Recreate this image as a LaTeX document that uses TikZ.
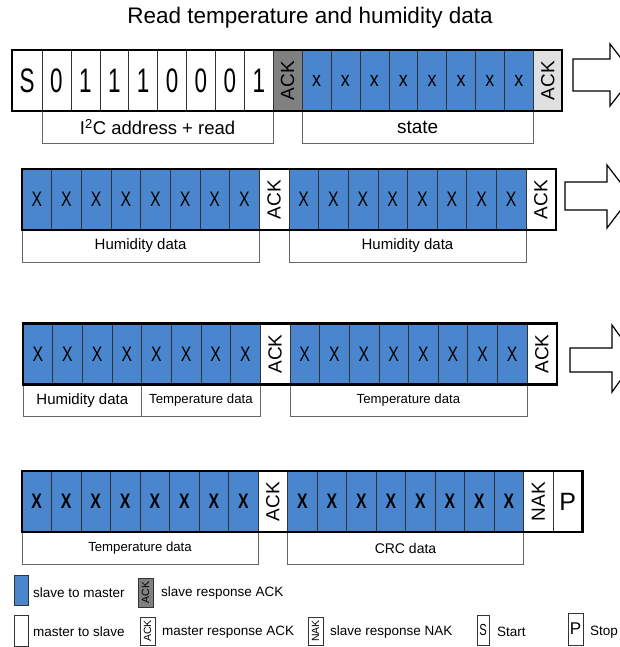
\documentclass[tikz,border=0pt]{standalone}
\usepackage{fontspec}
\setmainfont{Liberation Sans}
\usetikzlibrary{positioning}
\definecolor{slaveblue}{RGB}{74,134,206}
\definecolor{ackgray}{RGB}{128,128,128}
\definecolor{acklight}{RGB}{224,224,224}
\newcommand\tallbit[1]{\scalebox{0.66}[1]{\fontsize{34}{34}\selectfont #1}}
\newcommand\lowbit[1]{\scalebox{0.85}[1]{\fontsize{21}{21}\selectfont #1}}
\newcommand\capbit[1]{\scalebox{0.75}[1]{\fontsize{21}{21}\selectfont #1}}
\newcommand\vtext[1]{\rotatebox{90}{\fontsize{19}{19}\selectfont #1}}
\newcommand\smallv[1]{\rotatebox{90}{\fontsize{10.5}{10.5}\selectfont #1}}
\tikzset{
  bit/.style={draw=black!80, line width=0.6pt, minimum width=#1, minimum height=61pt,
    inner sep=0pt, outer sep=0pt, anchor=north west},
  bit/.default=29.65pt,
  slv/.style={bit=#1, fill=slaveblue},
  slv/.default=29.65pt,
  mst/.style={bit=#1, fill=white},
  mst/.default=29.65pt,
  lab/.style={draw=black!60, line width=0.6pt, minimum height=32pt, inner sep=0pt,
    outer sep=0pt, anchor=north west},
  frame/.style={draw=black, line width=2.2pt},
  blockarrow/.style={draw=black, line width=1.2pt, fill=white, line join=miter},
  key/.style={draw=black!80, line width=0.8pt, minimum width=14pt, minimum height=29pt,
    inner sep=0pt, outer sep=0pt, anchor=north west},
  keytext/.style={anchor=west, inner sep=0pt, font=\fontsize{13.5}{13.5}\selectfont}
}

\begin{document}
\begin{tikzpicture}[x=1pt,y=-1pt]
  \useasboundingbox (0,0) rectangle (620,647);
  \node[font=\fontsize{22.5}{22.5}\selectfont] (title) at (310,18) {Read temperature and humidity data};

  % first frame: address + state
  \node[mst=30pt] (a0) at (12,50) {\tallbit{S}};
  \foreach \b [count=\i] in {0,1,1,1,0,0,0,1}
    \node[mst=28.9pt] (a\i) at ({42+(\i-1)*28.9},50) {\tallbit{\b}};
  \node[bit=28.9pt, fill=ackgray] (a9) at ({42+8*28.9},50) {\vtext{ACK}};
  \foreach \i in {10,...,17}
    \node[slv=28.9pt] (a\i) at ({42+(\i-1)*28.9},50) {\lowbit{x}};
  \node[bit=28.9pt, fill=acklight] (a18) at ({42+17*28.9},50) {\vtext{ACK}};
  \node[lab, minimum width=8*28.9, font=\fontsize{18.5}{18.5}\selectfont] (addr) at (a1.south west) {I\textsuperscript{2}C address + read};
  \node[lab, minimum width=8*28.9, font=\fontsize{19}{19}\selectfont] (state) at (a10.south west) {state};
  \draw[frame] (a0.north west) rectangle (a18.south east);
  \draw[blockarrow] (573,59) -- (610,59) -- (610,44) -- (634,75) -- (610,106) -- (610,91) -- (573,91) -- cycle;

  % second frame: humidity
  \foreach \i in {1,...,8}
    \node[slv] (b\i) at ({22+(\i-1)*29.65},169) {\capbit{X}};
  \node[mst] (b9) at ({22+8*29.65},169) {\vtext{ACK}};
  \foreach \i in {10,...,17}
    \node[slv] (b\i) at ({22+(\i-1)*29.65},169) {\capbit{X}};
  \node[mst] (b18) at ({22+17*29.65},169) {\vtext{ACK}};
  \node[lab, minimum width=8*29.65, font=\fontsize{15}{15}\selectfont] (hum1) at (b1.south west) {Humidity data};
  \node[lab, minimum width=8*29.65, font=\fontsize{15}{15}\selectfont] (hum2) at (b10.south west) {Humidity data};
  \draw[frame] (b1.north west) rectangle (b18.south east);
  \draw[blockarrow] (565,182) -- (607,182) -- (607,165) -- (631,196.5) -- (607,228) -- (607,210) -- (565,210) -- cycle;

  % third frame: humidity / temperature
  \foreach \i in {1,...,8}
    \node[slv] (c\i) at ({23+(\i-1)*29.65},323.5) {\capbit{X}};
  \node[mst] (c9) at ({23+8*29.65},323.5) {\vtext{ACK}};
  \foreach \i in {10,...,17}
    \node[slv] (c\i) at ({23+(\i-1)*29.65},323.5) {\capbit{X}};
  \node[mst] (c18) at ({23+17*29.65},323.5) {\vtext{ACK}};
  \node[lab, minimum width=4*29.65, font=\fontsize{15}{15}\selectfont] (hum3) at (c1.south west) {Humidity data};
  \node[lab, minimum width=4*29.65, font=\fontsize{13.2}{13.2}\selectfont] (temp1) at (c5.south west) {Temperature data};
  \node[lab, minimum width=8*29.65, font=\fontsize{13.2}{13.2}\selectfont] (temp2) at (c10.south west) {Temperature data};
  \draw[frame] (c1.north west) rectangle (c18.south east);
  \draw[blockarrow] (570,348) -- (612,348) -- (612,325) -- (636,358.5) -- (612,392) -- (612,372) -- (570,372) -- cycle;

  % fourth frame: temperature + CRC
  \foreach \i in {1,...,8}
    \node[slv=29.5pt] (d\i) at ({22+(\i-1)*29.5},471) {\capbit{\bfseries X}};
  \node[mst=29.5pt] (d9) at ({22+8*29.5},471) {\vtext{ACK}};
  \foreach \i in {10,...,17}
    \node[slv=29.5pt] (d\i) at ({22+(\i-1)*29.5},471) {\capbit{\bfseries X}};
  \node[mst=29.5pt] (d18) at ({22+17*29.5},471) {\vtext{NAK}};
  \node[mst=29.5pt, font=\fontsize{25}{25}\selectfont] (d19) at ({22+18*29.5},471) {P};
  \node[lab, minimum width=8*29.5, font=\fontsize{13.2}{13.2}\selectfont] (temp3) at (d1.south west) {Temperature data};
  \node[lab, minimum width=8*29.5, font=\fontsize{14}{14}\selectfont] (crc) at (d10.south west) {CRC data};
  \draw[frame] (d1.north west) rectangle (d19.south east);

  % legend
  \node[key, fill=slaveblue, minimum height=30pt] (k1) at (14,575) {};
  \node[keytext] (k1t) at (33,593) {slave to master};
  \node[key, fill=ackgray, minimum width=15pt] (k2) at (138,578) {\smallv{ACK}};
  \node[keytext] (k2t) at (161,593) {slave response ACK};
  \node[key, fill=white, minimum height=31pt] (k3) at (14,615) {};
  \node[keytext] (k3t) at (33,632) {master to slave};
  \node[key, fill=white, minimum width=15pt, minimum height=28pt] (k4) at (140,617) {\smallv{ACK}};
  \node[keytext] (k4t) at (162,632) {master response ACK};
  \node[key, fill=white, minimum width=15pt, minimum height=28pt] (k5) at (308,617) {\smallv{NAK}};
  \node[keytext] (k5t) at (330,632) {slave response NAK};
  \node[key, fill=white, minimum width=12pt, minimum height=30pt] (k6) at (477,615) {\scalebox{0.7}[1]{\fontsize{16}{16}\selectfont S}};
  \node[keytext] (k6t) at (497,632) {Start};
  \node[key, fill=white, minimum width=15pt, minimum height=32pt] (k7) at (568,613) {\fontsize{17}{17}\selectfont P};
  \node[keytext] (k7t) at (590,632) {Stop};
\end{tikzpicture}
\end{document}
